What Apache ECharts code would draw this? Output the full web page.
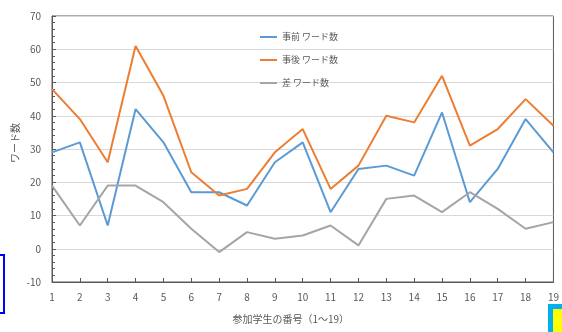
<!DOCTYPE html>
<html><head><meta charset="utf-8">
<script src="https://cdn.jsdelivr.net/npm/echarts@6/dist/echarts.min.js"></script>
<style>html,body{margin:0;padding:0;background:#fff}#c{width:562px;height:332px}</style>
</head><body><div id="c"></div>
<script>
const students = [1,2,3,4,5,6,7,8,9,10,11,12,13,14,15,16,17,18,19];
const before = [29,32,7,42,32,17,17,13,26,32,11,24,25,22,41,14,24,39,29];
const after  = [48,39,26,61,46,23,16,18,29,36,18,25,40,38,52,31,36,45,37];
const diff   = [19,7,19,19,14,6,-1,5,3,4,7,1,15,16,11,17,12,6,8];
const seriesNames = ['事前 ワード数','事後 ワード数','差 ワード数'];
const colors = ['#5B9BD5','#ED7D31','#A5A5A5'];
const pairs = a => students.map((s,i)=>[s,a[i]]);
const font = '"Noto Sans CJK JP","Noto Sans",sans-serif';
const chart = echarts.init(document.getElementById('c'));
chart.setOption({
  animation:false,
  color: colors,
  grid:{left:52,right:8,top:16,bottom:50,show:true,borderColor:'#595959',borderWidth:1},
  legend:{orient:'vertical',left:255,top:26,itemGap:11,itemWidth:17,itemHeight:2,icon:'rect',
    textStyle:{fontFamily:font,fontSize:9,color:'#595959',lineHeight:12},data:seriesNames},
  xAxis:{type:'value',min:1,max:19,interval:1,
    name:'参加学生の番号（1〜19）',nameLocation:'middle',nameGap:32,nameMoveOverlap:false,
    nameTextStyle:{fontFamily:font,fontSize:10,color:'#595959',padding:[0,24,0,0]},
    axisLine:{onZero:false,lineStyle:{color:'#595959'}},
    axisTick:{inside:true,length:4,lineStyle:{color:'#595959'}},
    axisLabel:{fontFamily:font,fontSize:10,color:'#595959',margin:10},
    splitLine:{show:false}},
  yAxis:{type:'value',min:-10,max:70,interval:10,
    name:'ワード数',nameLocation:'middle',nameGap:32,nameMoveOverlap:false,
    nameTextStyle:{fontFamily:font,fontSize:10,color:'#595959',padding:[0,0,0,12]},
    axisLine:{show:true,onZero:false,lineStyle:{color:'#595959'}},
    axisTick:{show:true,inside:true,length:4,lineStyle:{color:'#595959'}},
    minorTick:{show:true,splitNumber:5,length:3,lineStyle:{color:'#595959'}},
    axisLabel:{fontFamily:font,fontSize:10,color:'#595959',margin:11},
    splitLine:{lineStyle:{color:'#D9D9D9'}}},
  series:[
    {name:seriesNames[0],type:'line',data:pairs(before),showSymbol:false,symbol:'none',lineStyle:{width:2}},
    {name:seriesNames[1],type:'line',data:pairs(after),showSymbol:false,symbol:'none',lineStyle:{width:2}},
    {name:seriesNames[2],type:'line',data:pairs(diff),showSymbol:false,symbol:'none',lineStyle:{width:2}}
  ],
  graphic:[
    {type:'rect',shape:{x:-5,y:255,width:9,height:58},style:{fill:'#fff',stroke:'#0000FF',lineWidth:2}},
    {type:'rect',shape:{x:550.5,y:306.5,width:20,height:40},style:{fill:'#FFFF00',stroke:'#00B0F0',lineWidth:5}}
  ]
});
</script></body></html>
